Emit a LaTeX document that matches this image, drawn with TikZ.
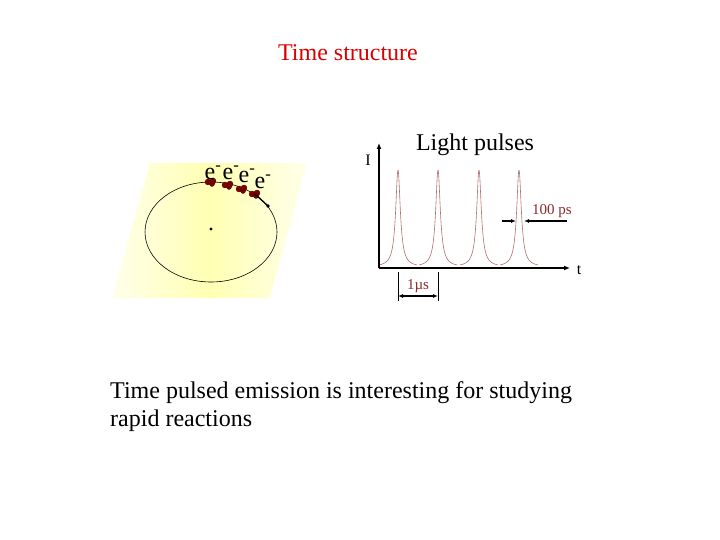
\documentclass[tikz,border=0pt]{standalone}
\usepackage{fontspec}
\setmainfont{Liberation Serif}
\usetikzlibrary{arrows.meta}
\definecolor{pulsec}{RGB}{180,110,110}
\definecolor{lblc}{RGB}{140,40,40}
\begin{document}
\begin{tikzpicture}[x=1pt,y=-1pt,
  lbl/.style={font=\fontsize{15}{16}\selectfont, text=lblc, inner sep=1pt},
  elec/.style={fill=red!50!black, draw=red!30!black, line width=0.3pt},
  dim/.style={line width=1.2pt,-{Latex[length=5pt,width=4pt]}},
  pulse/.style={draw=pulsec, line width=0.6pt}]
\useasboundingbox (0,0) rectangle (720,540);
\node[text=red!85!black, font=\fontsize{24}{26}\selectfont] (title) at (348,53) {Time structure};
% orbit panel
\shade[left color=yellow!8, right color=yellow!8, middle color=yellow!30] (150,163) -- (307,163) -- (270,298) -- (112,298) -- cycle;
\draw[line width=0.6pt] (211,232) ellipse (66 and 50);
\fill (211,229) circle (1.6);
\foreach \x/\y/\n in {211/182/a,228/185/b,242/189/c,255/194/d}{
  \coordinate (\n) at (\x,\y);
  \fill[elec] (\x-3,\y) circle (3) (\x+2,\y-1) circle (3) (\x+1,\y+2) circle (2.5);
}
\coordinate (tip) at (268,206);
\draw[line width=1.3pt] (d) -- (tip);
\fill (tip) circle (1.8);
\foreach \x/\y/\n in {213/173/ea,231/173/eb,247/176/ec,263/182/ed}
  \node[font=\fontsize{24}{26}\selectfont, inner sep=0pt] (\n) at (\x,\y) {e\textsuperscript{-}};
% graph
\coordinate (O) at (379,268);
\coordinate (Ytop) at (379,143);
\coordinate (Xend) at (570,268);
\foreach \p in {398,438,479,519}
  \draw[pulse] plot[domain=-19:19,samples=120,smooth] ({\p+\x},{267-97/(1+(\x/2.8)^2)});
\draw[line width=1.2pt,-{Latex[length=6pt,width=5pt]}] (O) -- (Ytop);
\draw[line width=1.2pt,-{Latex[length=6pt,width=5pt]}] (O) -- (Xend);
\node[font=\fontsize{16}{16}\selectfont] (I) at (368,160) {I};
\node[font=\fontsize{16}{16}\selectfont] (t) at (579,270) {t};
\node[font=\fontsize{24}{26}\selectfont] (lp) at (475,145) {Light pulses};
% 1 us
\coordinate (m1) at (398,301); \coordinate (m2) at (438,301);
\draw[line width=0.5pt] (398,272) -- (m1) (438,272) -- (m2);
\draw[dim,{Latex[length=5pt,width=4pt]}-{Latex[length=5pt,width=4pt]}] (398,296) -- (438,296);
\node[lbl] (us) at (418,286) {1µs};
% 100 ps
\draw[dim] (502,221) -- (516,221);
\draw[dim] (567,221) -- (524,221);
\node[lbl] (ps) at (552,211) {100 ps};
% bottom text
\node[font=\fontsize{24}{28}\selectfont, align=left, anchor=north west, inner sep=0pt] (txt) at (110,381)
 {Time pulsed emission is interesting for studying\\rapid reactions};
\end{tikzpicture}
\end{document}
